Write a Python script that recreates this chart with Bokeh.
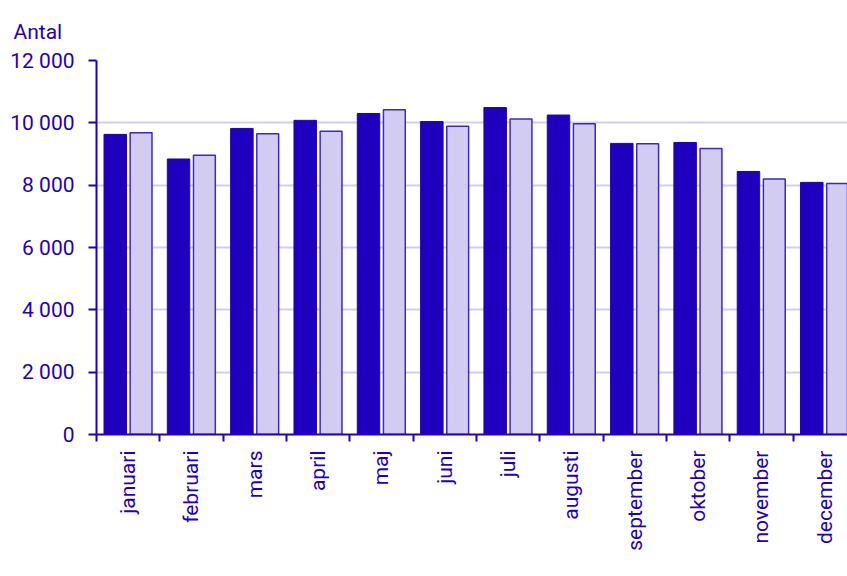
import math
from bokeh.plotting import figure
from bokeh.models import (ColumnDataSource, Range1d, FixedTicker, Legend, LegendItem, Title)
from bokeh.transform import dodge
from bokeh.embed import file_html
from bokeh.resources import INLINE

months = ["januari", "februari", "mars", "april", "maj", "juni", "juli",
          "augusti", "september", "oktober", "november", "december"]
v2019 = [9630, 8840, 9820, 10080, 10300, 10040, 10490, 10250, 9340, 9370, 8440, 8090]
v2020 = [9680, 8960, 9650, 9730, 10420, 9890, 10120, 9970, 9330, 9180, 8200, 8050]
y_ticks = [0, 2000, 4000, 6000, 8000, 10000, 12000]

BLUE = "#1e00be"
LIGHT = "#d2cdf0"
FONT = "Roboto"
FS = "21px"

idx = [i + 0.5 for i in range(len(months))]
src = ColumnDataSource(dict(x=idx, m=months, a=v2019, b=v2020))

p = figure(frame_width=751, frame_height=374, output_backend="svg", toolbar_location=None,
           x_range=Range1d(0, 11.86), y_range=Range1d(0, 12000),
           min_border_left=96, min_border_right=0, min_border_top=52,
           min_border_bottom=142)
p.outline_line_color = None
p.background_fill_color = "white"

r1 = p.vbar(x=dodge("x", -0.204, range=p.x_range), top="a", width=0.355, source=src,
            fill_color=BLUE, line_color=BLUE, line_width=1)
r2 = p.vbar(x=dodge("x", 0.204, range=p.x_range), top="b", width=0.345, source=src,
            fill_color=LIGHT, line_color="#3a28cc", line_width=1.5)

p.xgrid.visible = False
p.ygrid.grid_line_color = LIGHT
p.ygrid.grid_line_width = 2
p.ygrid.ticker = FixedTicker(ticks=y_ticks)

yax = p.yaxis[0]
yax.ticker = FixedTicker(ticks=y_ticks)
yax.major_label_overrides = {t: f"{t:,}".replace(",", " ") for t in y_ticks}
yax.axis_line_color = BLUE
yax.axis_line_width = 2
yax.major_tick_line_color = BLUE
yax.major_tick_line_width = 2
yax.major_tick_out = 8
yax.major_tick_in = 0
yax.minor_tick_line_color = None
yax.major_label_standoff = 14
yax.major_label_text_font = FONT
yax.major_label_text_font_size = FS
yax.major_label_text_color = BLUE

xax = p.xaxis[0]
xax.ticker = FixedTicker(ticks=idx, minor_ticks=list(range(len(months) + 1)))
xax.major_label_overrides = {x: m for x, m in zip(idx, months)}
xax.major_label_orientation = math.pi / 2
xax.axis_line_color = BLUE
xax.axis_line_width = 2
xax.major_tick_line_color = None
xax.minor_tick_line_color = BLUE
xax.minor_tick_line_width = 2
xax.minor_tick_out = 7
xax.minor_tick_in = 0
xax.major_label_standoff = 9
xax.major_label_text_font = FONT
xax.major_label_text_font_size = FS
xax.major_label_text_color = BLUE

t = Title(text="Antal", align="left", offset=-83, text_font=FONT,
          text_font_size=FS, text_font_style="normal", text_color=BLUE,
          standoff=34)
p.add_layout(t, "above")

legend = Legend(items=[LegendItem(label="2019", renderers=[r1]),
                       LegendItem(label="2020", renderers=[r2])],
                orientation="horizontal", location=(267, -141),
                label_text_font=FONT, label_text_font_size=FS,
                label_text_color=BLUE, glyph_width=14, glyph_height=13,
                label_height=16, label_standoff=5, spacing=18, padding=0, margin=0,
                border_line_color=None, background_fill_alpha=0)
p.add_layout(legend, "center")

open("out.html", "w").write(file_html(p, INLINE))
